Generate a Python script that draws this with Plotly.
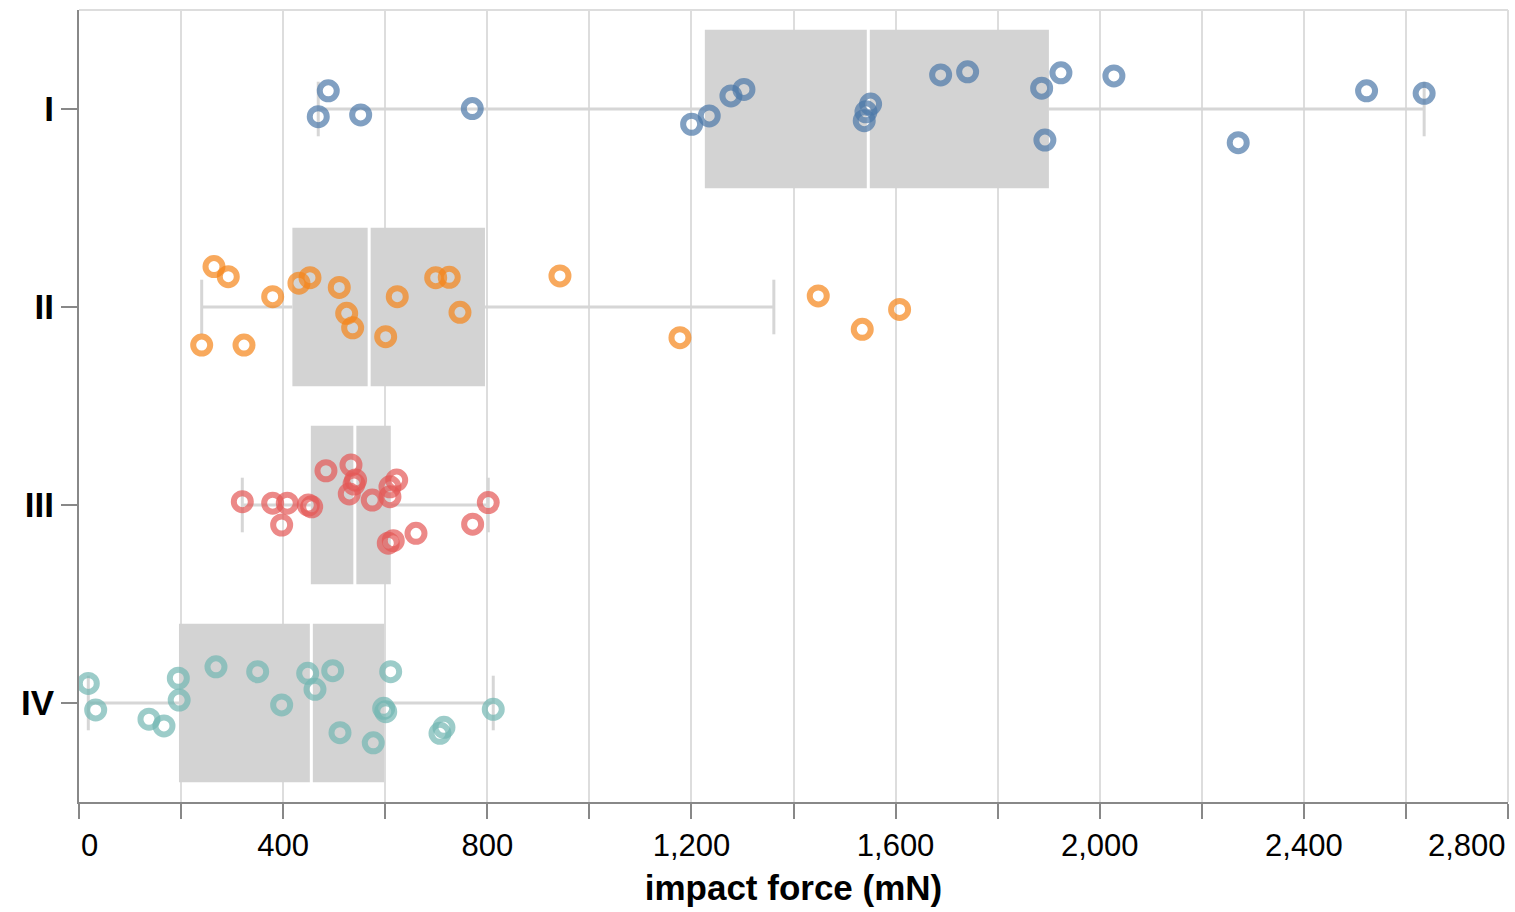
import numpy as np
import plotly.graph_objects as go

# Groups, colours and per-sample impact force (mN)
groups = ["I", "II", "III", "IV"]
colors = ["#4c78a8", "#f58518", "#e45756", "#72b7b2"]

force_I = [488.4, 468.8, 551.9, 770.6, 1200.4, 1234.9, 1277.4, 1302.9, 1551.1, 1542.0,
           1538.6, 1688.3, 1741.2, 1886.2, 1924.0, 1892.6, 2027.8, 2271.4, 2522.9, 2635.7]
force_II = [264.5, 292.5, 379.5, 240.4, 323.3, 431.0, 452.6, 510.0, 524.5, 536.2,
            623.6, 600.9, 698.9, 725.5, 746.5, 942.4, 1177.5, 1448.5, 1534.7, 1607.9]
force_III = [320.0, 379.5, 408.1, 397.1, 449.3, 455.9, 483.9, 532.9, 542.0, 539.0,
             529.6, 574.6, 622.5, 609.3, 609.3, 606.0, 615.8, 660.3, 771.3, 801.9]
force_IV = [18.2, 32.7, 137.1, 166.5, 194.6, 196.3, 268.4, 350.1, 397.1, 448.1,
            462.4, 497.1, 511.4, 576.6, 610.7, 597.0, 601.0, 707.3, 715.1, 811.7]

# Vertical jitter of each sample, as a fraction of the category band
jitter_I = [-0.092, 0.039, 0.030, -0.002, 0.077, 0.035, -0.066, -0.099, -0.025, 0.014,
            0.059, -0.172, -0.188, -0.105, -0.183, 0.157, -0.167, 0.170, -0.092, -0.079]
jitter_II = [-0.204, -0.153, -0.052, 0.192, 0.192, -0.120, -0.148, -0.099, 0.032, 0.105,
             -0.052, 0.150, -0.148, -0.150, 0.027, -0.157, 0.155, -0.056, 0.113, 0.012]
jitter_III = [-0.017, -0.009, -0.009, 0.101, 0.000, 0.009, -0.173, -0.202, -0.126, -0.106,
              -0.056, -0.025, -0.126, -0.092, -0.042, 0.193, 0.180, 0.143, 0.097, -0.012]
jitter_IV = [-0.099, 0.035, 0.082, 0.116, -0.125, -0.015, -0.183, -0.158, 0.010, -0.150,
             -0.069, -0.163, 0.150, 0.201, -0.158, 0.027, 0.044, 0.153, 0.123, 0.032]

x_ticks = [0, 200, 400, 600, 800, 1000, 1200, 1400, 1600, 1800, 2000, 2200, 2400, 2600, 2800]
x_tick_labels = ["0", "", "400", "", "800", "", "1,200", "", "1,600", "", "2,000", "", "2,400", "", "2,800"]

forces = [force_I, force_II, force_III, force_IV]
jitters = [jitter_I, jitter_II, jitter_III, jitter_IV]

BOX_GRAY = "#d3d3d3"
RULE_GRAY = "#d6d6d6"
AXIS_GRAY = "#888888"
GRID_GRAY = "#dddddd"
FONT = "Liberation Sans, Arial, Helvetica, sans-serif"

# Box statistics (Tukey whiskers clipped at 1.5 IQR)
q1s, meds, q3s, los, his = [], [], [], [], []
for vals in forces:
    v = np.asarray(vals, dtype=float)
    q1, med, q3 = np.quantile(v, [0.25, 0.5, 0.75])
    iqr = q3 - q1
    q1s.append(q1)
    meds.append(med)
    q3s.append(q3)
    los.append(max(v.min(), q1 - 1.5 * iqr))
    his.append(min(v.max(), q3 + 1.5 * iqr))

pos = list(range(len(groups)))

fig = go.Figure()

# Whisker rules (outside the box only)
wx, wy = [], []
for i in pos:
    wx += [los[i], q1s[i], None, q3s[i], his[i], None]
    wy += [i, i, None, i, i, None]
fig.add_trace(go.Scatter(x=wx, y=wy, mode="lines",
                         line=dict(color=RULE_GRAY, width=3),
                         hoverinfo="skip", showlegend=False))

# Whisker caps
fig.add_trace(go.Scatter(x=los + his, y=pos + pos, mode="markers",
                         marker=dict(symbol="line-ns", size=39,
                                     line=dict(color=RULE_GRAY, width=3)),
                         hoverinfo="skip", showlegend=False))

# Boxes from Q1 to Q3
fig.add_trace(go.Bar(y=pos, x=[q3s[i] - q1s[i] for i in pos], base=q1s,
                     orientation="h", width=0.8,
                     marker=dict(color=BOX_GRAY, line=dict(width=0)),
                     hoverinfo="skip", showlegend=False))

# Median ticks
fig.add_trace(go.Scatter(x=meds, y=pos, mode="markers",
                         marker=dict(symbol="line-ns", size=158,
                                     line=dict(color="white", width=3)),
                         hoverinfo="skip", showlegend=False))

# Jittered samples
for i, (g, vals, jit, col) in enumerate(zip(groups, forces, jitters, colors)):
    fig.add_trace(go.Scatter(
        x=vals, y=[i + j for j in jit], mode="markers", name=g,
        marker=dict(symbol="circle-open", size=17, color=col, opacity=0.7,
                    line=dict(width=6)),
        showlegend=False))

fig.update_layout(
    width=1515, height=912,
    margin=dict(l=79, r=7, t=10, b=110),
    plot_bgcolor="white", paper_bgcolor="white",
    barmode="overlay", showlegend=False,
    font=dict(family=FONT, color="black"),
    xaxis=dict(
        range=[0, 2800], tickmode="array", tickvals=x_ticks,
        ticktext=["" if t in (x_ticks[0], x_ticks[-1]) else lab
                  for t, lab in zip(x_ticks, x_tick_labels)],
        showgrid=True, gridcolor=GRID_GRAY, gridwidth=2, zeroline=False,
        showline=True, linecolor=AXIS_GRAY, linewidth=2,
        ticks="outside", ticklen=15, tickwidth=2, tickcolor=AXIS_GRAY,
        tickfont=dict(size=31, color="black"),
        title=dict(text="impact force (mN)", standoff=13,
                   font=dict(size=35, weight="bold", color="black")),
    ),
    yaxis=dict(
        range=[3.5, -0.5], tickmode="array", tickvals=pos, ticktext=groups,
        showgrid=False, zeroline=False,
        showline=True, linecolor=AXIS_GRAY, linewidth=2,
        ticks="outside", ticklen=16, tickwidth=2, tickcolor=AXIS_GRAY,
        tickfont=dict(size=35, weight="bold", color="black"),
    ),
    shapes=[
        dict(type="line", xref="paper", yref="paper", x0=0, x1=1, y0=1, y1=1,
             line=dict(color=GRID_GRAY, width=2), layer="above"),
        dict(type="line", xref="paper", yref="paper", x0=1, x1=1, y0=0, y1=1,
             line=dict(color=GRID_GRAY, width=2), layer="above"),
    ],
    annotations=[
        dict(x=x_ticks[0], xref="x", y=0, yref="paper", text=x_tick_labels[0],
             xanchor="left", yanchor="top", yshift=-24, showarrow=False,
             font=dict(size=31, color="black")),
        dict(x=x_ticks[-1], xref="x", y=0, yref="paper", text=x_tick_labels[-1],
             xanchor="right", yanchor="top", yshift=-24, showarrow=False,
             font=dict(size=31, color="black")),
    ],
)

fig.write_html("out.html")
